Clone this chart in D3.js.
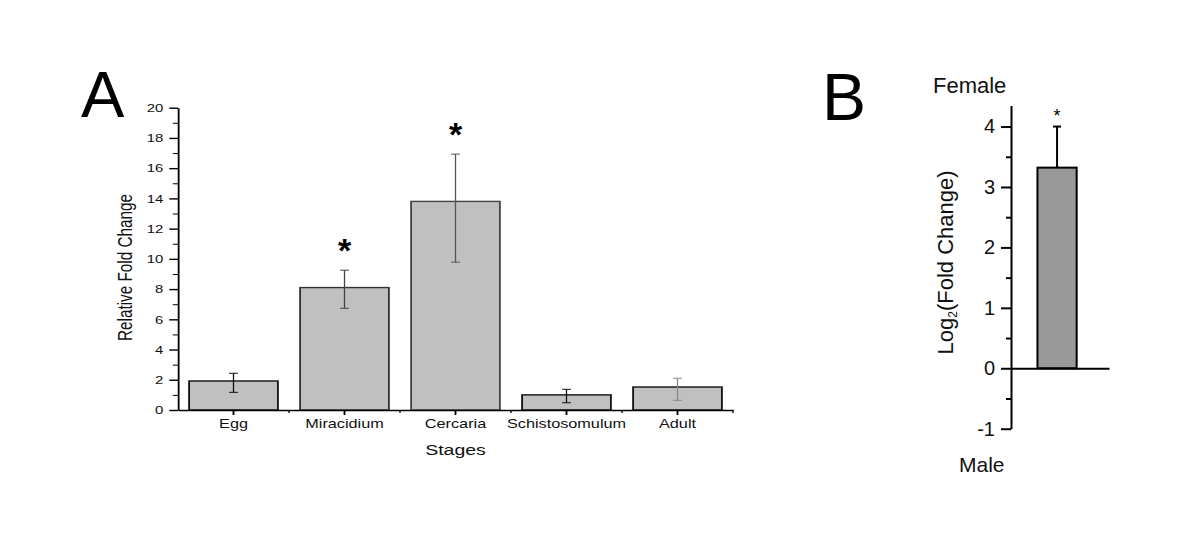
<!DOCTYPE html>
<html>
<head>
<meta charset="utf-8">
<script src="https://cdn.jsdelivr.net/npm/d3@7"></script>
<style>
  body { margin: 0; background: #fff; }
  svg { display: block; font-family: "Liberation Sans", Arial, sans-serif; }
</style>
</head>
<body>
<svg id="chart" width="1200" height="538"></svg>
<script>
// Panel A - relative expression by life stage
const stages = ["Egg", "Miracidium", "Cercaria", "Schistosomulum", "Adult"];
const foldChange = [1.92, 8.1, 13.8, 1.0, 1.52];
const errUp = [0.51, 1.15, 3.13, 0.37, 0.58];
const errDown = [0.75, 1.37, 4.02, 0.52, 0.88];
const significant = [false, true, true, false, false];
const yTicksA = d3.range(0, 21, 2);
const yMinorA = d3.range(1, 20, 2);

// Panel B - female vs male
const comparison = ["Female vs Male"];
const sexLabels = ["Female", "Male"];
const log2Fold = [3.32];
const log2Err = [0.68];
const sigB = [true];
const yTicksB = [-1, 0, 1, 2, 3, 4];
const yMinorB = [-0.5, 0.5, 1.5, 2.5, 3.5];

// styles for the error bars (as they look in the figure)
const errColors = ["#111", "#444", "#555", "#111", "#888"];
const barStroke = ["#111", "#333", "#444", "#111", "#111"];

const svg = d3.select("#chart");

// ---------- Panel A ----------
// the original panel is stretched horizontally, so draw it in a scaled group
const SX = 1.3;
const gA = svg.append("g").attr("transform", `scale(${SX},1)`);

const xA = d3.scaleBand()
    .domain(stages)
    .range([178 / SX, 733 / SX])
    .paddingInner(0.2)
    .paddingOuter(0.1);

const yA = d3.scaleLinear().domain([0, 20]).range([410, 107.7]);

const x0A = xA.range()[0];
const midA = d => xA(d) + xA.bandwidth() / 2;

// bars
gA.selectAll("rect.bar")
    .data(stages)
    .join("rect")
    .attr("class", "bar")
    .attr("x", d => xA(d))
    .attr("width", xA.bandwidth())
    .attr("y", (d, i) => yA(foldChange[i]))
    .attr("height", (d, i) => yA(0) - yA(foldChange[i]))
    .attr("fill", "#c0c0c0")
    .attr("stroke", (d, i) => barStroke[i])
    .attr("stroke-width", 1.4);

// error bars
const errA = gA.selectAll("g.err")
    .data(stages)
    .join("g")
    .attr("class", "err")
    .attr("stroke", (d, i) => errColors[i])
    .attr("stroke-width", 1);

errA.append("line")
    .attr("x1", midA)
    .attr("x2", midA)
    .attr("y1", (d, i) => yA(foldChange[i] + errUp[i]))
    .attr("y2", (d, i) => yA(foldChange[i] - errDown[i]));

errA.append("line")
    .attr("x1", d => midA(d) - 3.4)
    .attr("x2", d => midA(d) + 3.4)
    .attr("y1", (d, i) => yA(foldChange[i] + errUp[i]))
    .attr("y2", (d, i) => yA(foldChange[i] + errUp[i]));

errA.append("line")
    .attr("x1", d => midA(d) - 3.4)
    .attr("x2", d => midA(d) + 3.4)
    .attr("y1", (d, i) => yA(foldChange[i] - errDown[i]))
    .attr("y2", (d, i) => yA(foldChange[i] - errDown[i]));

// y axis
const yAxisA = gA.append("g")
    .attr("transform", `translate(${x0A},0)`)
    .call(d3.axisLeft(yA).tickValues(yTicksA).tickSize(6.7).tickPadding(4.6).tickSizeOuter(0));
yAxisA.selectAll("text").attr("font-size", 11.5).attr("font-family", null).attr("fill", "#111");

gA.append("g")
    .attr("transform", `translate(${x0A},0)`)
    .call(d3.axisLeft(yA).tickValues(yMinorA).tickSize(4).tickFormat(""))
    .call(g => g.select(".domain").remove());

// x axis
const xAxisA = gA.append("g")
    .attr("transform", `translate(0,${yA(0)})`)
    .call(d3.axisBottom(xA).tickSize(5).tickPadding(4.6).tickSizeOuter(0));
xAxisA.selectAll("text").attr("font-size", 12.5).attr("font-family", null).attr("fill", "#111");

// small ticks between categories
gA.append("g")
    .selectAll("line")
    .data(d3.range(1, stages.length + 1))
    .join("line")
    .attr("x1", k => x0A + k * xA.step())
    .attr("x2", k => x0A + k * xA.step())
    .attr("y1", yA(0))
    .attr("y2", yA(0) + 3)
    .attr("stroke", "#000");

[yAxisA, xAxisA].forEach(a => a.selectAll(".domain, .tick line").attr("stroke-width", 1.4).attr("stroke", "#000"));

// axis titles
gA.append("text")
    .attr("transform", `translate(${131.6 / SX},267.5) rotate(-90)`)
    .attr("text-anchor", "middle")
    .attr("font-size", 15.3)
    .attr("fill", "#111")
    .text("Relative Fold Change");

gA.append("text")
    .attr("x", x0A + xA.step() * 2.5)
    .attr("y", 455)
    .attr("text-anchor", "middle")
    .attr("font-size", 15)
    .attr("fill", "#111")
    .text("Stages");

// significance stars (unscaled so the glyph keeps its shape)
svg.append("g")
    .selectAll("text")
    .data(stages.filter((d, i) => significant[i]))
    .join("text")
    .attr("x", d => SX * midA(d))
    .attr("y", d => {
        const i = stages.indexOf(d);
        return yA(foldChange[i] + errUp[i]) - 8;
    })
    .attr("text-anchor", "middle")
    .attr("font-size", 34)
    .attr("font-weight", "bold")
    .text("*");

svg.append("text")
    .attr("x", 81)
    .attr("y", 117)
    .attr("font-size", 65)
    .text("A");

// ---------- Panel B ----------
const xB = d3.scaleBand()
    .domain(comparison)
    .range([1011, 1109])
    .paddingInner(0.6)
    .paddingOuter(0.3)
    .align(0.45);

const yB = d3.scaleLinear().domain([-1, 4.35]).range([428.7, 105.4]);

const gB = svg.append("g");
const midB = d => xB(d) + xB.bandwidth() / 2;

gB.selectAll("rect")
    .data(comparison)
    .join("rect")
    .attr("x", d => xB(d))
    .attr("width", xB.bandwidth())
    .attr("y", (d, i) => yB(log2Fold[i]))
    .attr("height", (d, i) => yB(0) - yB(log2Fold[i]))
    .attr("fill", "#999999")
    .attr("stroke", "#000")
    .attr("stroke-width", 2);

// one-sided error bar
const errB = gB.selectAll("g.errb")
    .data(comparison)
    .join("g")
    .attr("class", "errb")
    .attr("stroke", "#000")
    .attr("stroke-width", 2);

errB.append("line")
    .attr("x1", midB)
    .attr("x2", midB)
    .attr("y1", (d, i) => yB(log2Fold[i]))
    .attr("y2", (d, i) => yB(log2Fold[i] + log2Err[i]));

errB.append("line")
    .attr("x1", d => midB(d) - 4)
    .attr("x2", d => midB(d) + 4)
    .attr("y1", (d, i) => yB(log2Fold[i] + log2Err[i]))
    .attr("y2", (d, i) => yB(log2Fold[i] + log2Err[i]));

gB.selectAll("text.star")
    .data(comparison.filter((d, i) => sigB[i]))
    .join("text")
    .attr("class", "star")
    .attr("x", midB)
    .attr("y", d => {
        const i = comparison.indexOf(d);
        return yB(log2Fold[i] + log2Err[i]) - 5;
    })
    .attr("text-anchor", "middle")
    .attr("font-size", 18)
    .text("*");

// zero line
gB.append("g")
    .attr("transform", `translate(0,${yB(0)})`)
    .call(d3.axisBottom(xB).tickSize(0).tickFormat(""))
    .call(g => g.select(".domain").attr("stroke-width", 2));

const yAxisB = gB.append("g")
    .attr("transform", "translate(1011,0)")
    .call(d3.axisLeft(yB).tickValues(yTicksB).tickFormat(d => String(d))
        .tickSize(10).tickPadding(6).tickSizeOuter(0));
yAxisB.selectAll(".domain, .tick line").attr("stroke-width", 2);
yAxisB.selectAll("text").attr("font-size", 20).attr("font-family", null).attr("fill", "#111");

gB.append("g")
    .attr("transform", "translate(1011,0)")
    .call(d3.axisLeft(yB).tickValues(yMinorB).tickSize(5).tickFormat(""))
    .call(g => g.select(".domain").remove())
    .call(g => g.selectAll("line").attr("stroke-width", 2));

const yLabB = gB.append("text")
    .attr("transform", "translate(953.3,262.5) rotate(-90)")
    .attr("text-anchor", "middle")
    .attr("font-size", 22)
    .attr("fill", "#111");
yLabB.append("tspan").text("Log");
yLabB.append("tspan").attr("font-size", 12).attr("dy", 4).text("2");
yLabB.append("tspan").attr("dy", -4).text("(Fold Change)");

gB.append("text")
    .attr("x", 933)
    .attr("y", 93)
    .attr("font-size", 22)
    .attr("fill", "#111")
    .text(sexLabels[0]);

gB.append("text")
    .attr("x", 959)
    .attr("y", 472)
    .attr("font-size", 21)
    .attr("fill", "#111")
    .text(sexLabels[1]);

svg.append("text")
    .attr("x", 822)
    .attr("y", 120)
    .attr("font-size", 66)
    .text("B");
</script>
</body>
</html>
